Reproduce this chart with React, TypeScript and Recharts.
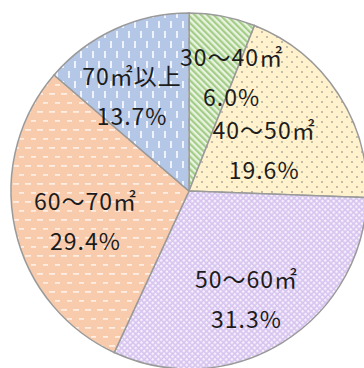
import { PieChart, Pie, Cell } from "recharts";

// floor area bands and their share of households (%)
const BANDS = ["30～40㎡", "40～50㎡", "50～60㎡", "60～70㎡", "70㎡以上"];
const SHARES = [6.0, 19.6, 31.3, 29.4, 13.7];
const FILLS = ["url(#pStripe)", "url(#pDots)", "url(#pCross)", "url(#pDash)", "url(#pVert)"];

// small nudges so the two-line labels sit where they read best
const LABEL_NUDGE: Array<[number, number]> = [
  [22, -7],
  [-17, 18],
  [0, 13],
  [4, 6],
  [-11, 4],
];

const data = BANDS.map((name, i) => ({ name, value: SHARES[i] }));

const RAD = Math.PI / 180;

function renderLabel(props: any) {
  const { cx, cy, midAngle, index, name, value } = props;
  const r = 110;
  const [nx, ny] = LABEL_NUDGE[index] ?? [0, 0];
  const x = cx + r * Math.cos(-midAngle * RAD) + nx;
  const y = cy + r * Math.sin(-midAngle * RAD) + ny;
  return (
    <text
      x={x}
      y={y}
      textAnchor="middle"
      fill="#1c1c1c"
      fontSize={23}
      letterSpacing={1}
      fontFamily="'Noto Sans CJK JP', sans-serif"
    >
      <tspan x={x} y={y - 20} dominantBaseline="central">{name}</tspan>
      <tspan x={x} y={y + 20} dominantBaseline="central">{value.toFixed(1)}%</tspan>
    </text>
  );
}

export default function App() {
  return (
    <div style={{ position: "absolute", left: 0, top: 0, width: 364, height: 368, background: "#fff" }}>
      <PieChart width={364} height={368} margin={{ top: 0, right: 0, bottom: 0, left: 0 }}>
        <defs>
          <pattern id="pStripe" width="4.5" height="4.5" patternUnits="userSpaceOnUse" patternTransform="rotate(-45)">
            <rect width="4.5" height="4.5" fill="#e9f3e1" />
            <rect width="2.2" height="4.5" fill="#a3cd86" />
          </pattern>
          <pattern id="pDots" width="10" height="10" patternUnits="userSpaceOnUse">
            <rect width="10" height="10" fill="#fff2cc" />
            <circle cx="2" cy="2" r="0.9" fill="#a8a496" />
            <circle cx="7" cy="7" r="0.9" fill="#a8a496" />
          </pattern>
          <pattern id="pCross" width="4" height="4" patternUnits="userSpaceOnUse" patternTransform="rotate(45)">
            <rect width="4" height="4" fill="#d6c3ef" />
            <rect x="1" y="1" width="2.4" height="2.4" fill="#f7f1fd" />
          </pattern>
          <pattern id="pDash" width="12" height="18" patternUnits="userSpaceOnUse">
            <rect width="12" height="18" fill="#f8cbad" />
            <rect x="1" y="3" width="6" height="1.8" fill="#fdede2" />
            <rect x="7" y="12" width="6" height="1.8" fill="#fdede2" />
          </pattern>
          <pattern id="pVert" width="12" height="20" patternUnits="userSpaceOnUse">
            <rect width="12" height="20" fill="#b4c7e7" />
            <rect x="2" y="1" width="2" height="7" fill="#eef2fa" />
            <rect x="8" y="11" width="2" height="7" fill="#eef2fa" />
          </pattern>
        </defs>
        <Pie
          data={data}
          dataKey="value"
          nameKey="name"
          cx={189}
          cy={191}
          outerRadius={178}
          startAngle={90}
          endAngle={-270}
          stroke="#9a9a9a"
          strokeWidth={1.5}
          label={renderLabel}
          labelLine={false}
          isAnimationActive={false}
        >
          {data.map((_, i) => (
            <Cell key={i} fill={FILLS[i]} />
          ))}
        </Pie>
      </PieChart>
    </div>
  );
}
